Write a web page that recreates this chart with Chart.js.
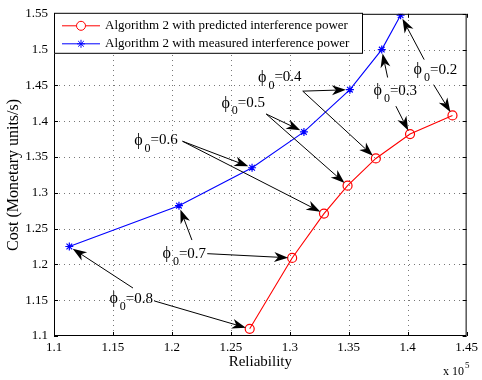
<!DOCTYPE html>
<html>
<head>
<meta charset="utf-8">
<script src="https://cdn.jsdelivr.net/npm/chart.js@4"></script>
<style>
  html, body { margin: 0; padding: 0; background: #fff; }
  #wrap { width: 482px; height: 380px; }
</style>
</head>
<body>
<div id="wrap"><canvas id="chart" width="482" height="380"></canvas></div>
<script>
// series values (reliability in units of 1e5)
let predX = [1.266, 1.302, 1.329, 1.349, 1.373, 1.402, 1.438]
let predY = [1.110, 1.209, 1.271, 1.310, 1.348, 1.382, 1.408]
let measX = [1.113, 1.206, 1.268, 1.312, 1.351, 1.378, 1.394]
let measY = [1.225, 1.282, 1.335, 1.385, 1.444, 1.500, 1.548]

// axis ticks
let xTicks = [1.1, 1.15, 1.2, 1.25, 1.3, 1.35, 1.4, 1.45]
let yTicks = [1.1, 1.15, 1.2, 1.25, 1.3, 1.35, 1.4, 1.45, 1.5, 1.55]

// phi_0 annotations (positions in data units), index 0 -> phi 0.2 -> last point
let phiLabels = ['0.2', '0.3', '0.4', '0.5', '0.6', '0.7', '0.8']
let labelX = [1.405, 1.371, 1.273, 1.242, 1.168, 1.192, 1.147]
let labelY = [1.472, 1.442, 1.461, 1.425, 1.373, 1.215, 1.152]
let measArrowFrom = [[1.414, 1.486], [1.383, 1.461], [1.311, 1.442], [1.280, 1.410], [1.209, 1.372], [1.217, 1.234], [1.167, 1.167]]
let predArrowFrom = [[1.422, 1.451], [1.390, 1.421], [1.311, 1.442], [1.280, 1.410], [1.209, 1.372], [1.230, 1.215], [1.185, 1.149]]

let serif = 'Liberation Serif, Times New Roman, serif'

let predPoints = predX.map((x, i) => ({ x: x, y: predY[i] }))
let measPoints = measX.map((x, i) => ({ x: x, y: measY[i] }))

let fmt = v => Number(v.toFixed(2)).toString()

// draw a line with a matlab-like filled arrow head that stops at the marker
let drawArrow = function(ctx, x0, y0, x1, y1) {
    let dx = x1 - x0, dy = y1 - y0
    let len = Math.sqrt(dx * dx + dy * dy)
    let ux = dx / len, uy = dy / len
    let nx = -uy, ny = ux
    let tx = x1 - ux * 4, ty = y1 - uy * 4
    let L = 14, W = 5, notch = 10
    let bx = tx - ux * L, by = ty - uy * L
    let mx = tx - ux * notch, my = ty - uy * notch
    ctx.beginPath()
    ctx.moveTo(x0, y0)
    ctx.lineTo(mx, my)
    ctx.stroke()
    ctx.beginPath()
    ctx.moveTo(tx, ty)
    ctx.lineTo(bx + nx * W, by + ny * W)
    ctx.lineTo(mx, my)
    ctx.lineTo(bx - nx * W, by - ny * W)
    ctx.closePath()
    ctx.fill()
}

// dotted grid under the data
let gridPlugin = {
    id: 'dottedGrid',
    beforeDatasetsDraw: function(chart) {
        let ctx = chart.ctx
        let area = chart.chartArea
        let xs = chart.scales.x, ys = chart.scales.y
        ctx.save()
        ctx.strokeStyle = '#777'
        ctx.lineWidth = 1
        ctx.setLineDash([1, 4])
        ctx.beginPath()
        xTicks.slice(1, -1).forEach(v => {
            let px = Math.round(xs.getPixelForValue(v)) + 0.5
            ctx.moveTo(px, area.bottom); ctx.lineTo(px, area.top)
        })
        yTicks.slice(1, -1).forEach(v => {
            let py = Math.round(ys.getPixelForValue(v)) + 0.5
            ctx.moveTo(area.left, py); ctx.lineTo(area.right, py)
        })
        ctx.stroke()
        ctx.restore()
    }
}

let extrasPlugin = {
    id: 'extras',
    afterDraw: function(chart) {
        let ctx = chart.ctx
        let area = chart.chartArea
        let xs = chart.scales.x, ys = chart.scales.y
        ctx.save()

        // axes box and inward ticks
        ctx.strokeStyle = '#000'
        ctx.lineWidth = 1
        ctx.strokeRect(area.left + 0.5, area.top + 0.5, area.right - area.left - 1, area.bottom - area.top - 1)
        ctx.beginPath()
        xTicks.forEach(v => {
            let px = Math.round(xs.getPixelForValue(v)) + 0.5
            ctx.moveTo(px, area.bottom); ctx.lineTo(px, area.bottom - 4)
            ctx.moveTo(px, area.top); ctx.lineTo(px, area.top + 4)
        })
        yTicks.forEach(v => {
            let py = Math.round(ys.getPixelForValue(v)) + 0.5
            ctx.moveTo(area.left, py); ctx.lineTo(area.left + 4, py)
            ctx.moveTo(area.right, py); ctx.lineTo(area.right - 4, py)
        })
        ctx.stroke()

        // annotations
        ctx.fillStyle = '#000'
        ctx.strokeStyle = '#000'
        ctx.lineWidth = 1
        phiLabels.forEach((lab, i) => {
            let idx = predX.length - 1 - i
            let mFrom = measArrowFrom[i], pFrom = predArrowFrom[i]
            drawArrow(ctx, xs.getPixelForValue(mFrom[0]), ys.getPixelForValue(mFrom[1]),
                xs.getPixelForValue(measX[idx]), ys.getPixelForValue(measY[idx]))
            drawArrow(ctx, xs.getPixelForValue(pFrom[0]), ys.getPixelForValue(pFrom[1]),
                xs.getPixelForValue(predX[idx]), ys.getPixelForValue(predY[idx]))

            let tx = xs.getPixelForValue(labelX[i])
            let ty = ys.getPixelForValue(labelY[i])
            ctx.textBaseline = 'middle'
            ctx.textAlign = 'left'
            ctx.font = '16px ' + serif
            ctx.fillText('\u03d5', tx, ty)
            let w1 = ctx.measureText('\u03d5').width + 2
            ctx.font = '12px ' + serif
            ctx.fillText('0', tx + w1, ty + 8)
            let w2 = ctx.measureText('0').width
            ctx.font = '15px ' + serif
            ctx.fillText('=' + lab, tx + w1 + w2, ty)
        })

        // legend box
        let lx = area.left, ly = area.top - 1, lw = 309, lh = 41
        ctx.fillStyle = '#fff'
        ctx.fillRect(lx, ly, lw, lh)
        ctx.strokeStyle = '#000'
        ctx.strokeRect(lx + 0.5, ly + 0.5, lw - 1, lh - 1)
        let rows = [
            { color: '#ff0000', style: 'circle', text: 'Algorithm 2 with predicted interference power' },
            { color: '#0000ff', style: 'star', text: 'Algorithm 2 with measured interference power' }
        ]
        rows.forEach((r, k) => {
            let y = ly + 13 + k * 18
            ctx.strokeStyle = r.color
            ctx.lineWidth = 1
            ctx.beginPath()
            ctx.moveTo(lx + 8, y); ctx.lineTo(lx + 46, y)
            ctx.stroke()
            Chart.helpers.drawPoint(ctx, { pointStyle: r.style, radius: r.style === 'circle' ? 4.5 : 4, borderWidth: 1 }, lx + 27, y)
            ctx.fillStyle = '#000'
            ctx.font = '13px ' + serif
            ctx.textBaseline = 'middle'
            ctx.fillText(r.text, lx + 51, y)
        })

        // exponent label
        ctx.fillStyle = '#000'
        ctx.font = '12px ' + serif
        ctx.textBaseline = 'alphabetic'
        ctx.fillText('x 10', 443, 375)
        ctx.font = '9px ' + serif
        ctx.fillText('5', 465, 368)
        ctx.restore()
    }
}

let ctx = document.getElementById('chart').getContext('2d')
let chart = new Chart(ctx, {
    type: 'scatter',
    data: {
        datasets: [
            {
                label: 'Algorithm 2 with predicted interference power',
                data: predPoints,
                showLine: true,
                borderColor: '#ff0000',
                backgroundColor: 'rgba(0,0,0,0)',
                borderWidth: 1.1,
                pointStyle: 'circle',
                pointRadius: 4.5,
                pointBorderWidth: 1.2,
                pointBorderColor: '#ff0000'
            },
            {
                label: 'Algorithm 2 with measured interference power',
                data: measPoints,
                showLine: true,
                borderColor: '#0000ff',
                backgroundColor: 'rgba(0,0,0,0)',
                borderWidth: 1.1,
                pointStyle: 'star',
                pointRadius: 4,
                pointBorderWidth: 1.2,
                pointBorderColor: '#0000ff'
            }
        ]
    },
    options: {
        responsive: false,
        animation: false,
        layout: { padding: { top: 8, right: 12, left: 0, bottom: 0 } },
        plugins: { legend: { display: false }, tooltip: { enabled: false } },
        scales: {
            x: {
                type: 'linear',
                min: 1.1,
                max: 1.45,
                afterBuildTicks: s => { s.ticks = xTicks.map(v => ({ value: v })) },
                afterFit: s => { s.height = 44 },
                grid: { display: false, drawTicks: false },
                border: { display: false },
                ticks: { color: '#000', padding: 4, maxRotation: 0, font: { family: serif, size: 13 }, callback: v => fmt(v) },
                title: { display: true, text: 'Reliability', color: '#000', font: { family: serif, size: 15 }, padding: { top: 0, bottom: 9 } }
            },
            y: {
                type: 'linear',
                min: 1.1,
                max: 1.55,
                afterBuildTicks: s => { s.ticks = yTicks.map(v => ({ value: v })) },
                afterFit: s => { s.width = 54 },
                grid: { display: false, drawTicks: false },
                border: { display: false },
                ticks: { color: '#000', padding: 6, font: { family: serif, size: 13 }, callback: v => fmt(v) },
                title: { display: true, text: 'Cost (Monetary units/s)', color: '#000', font: { family: serif, size: 16 }, padding: { top: 4, bottom: 0 } }
            }
        }
    },
    plugins: [gridPlugin, extrasPlugin]
})
</script>
</body>
</html>
